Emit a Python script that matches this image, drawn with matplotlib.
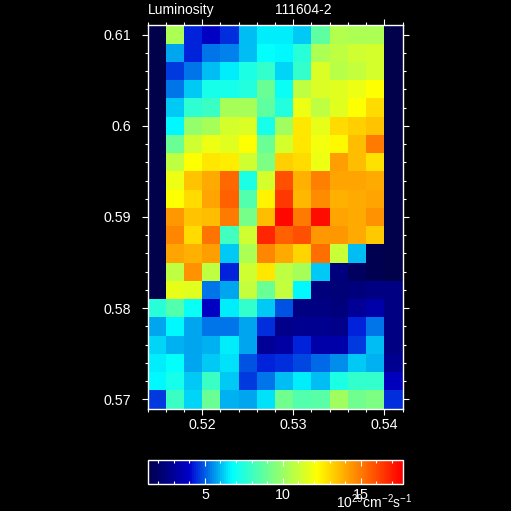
import numpy as np
import matplotlib
matplotlib.use("Agg")
import matplotlib.pyplot as plt
from matplotlib.colors import LinearSegmentedColormap, Normalize
from matplotlib.cm import ScalarMappable
from matplotlib.ticker import MultipleLocator, FormatStrFormatter

plt.rcParams['font.family'] = ['Liberation Sans', 'DejaVu Sans']

# cell edges
x_edges = [0.514, 0.516, 0.518, 0.520, 0.522, 0.524, 0.526, 0.528,
           0.530, 0.532, 0.534, 0.536, 0.538, 0.540, 0.542]
y_edges = [0.611, 0.609, 0.607, 0.605, 0.603, 0.601, 0.599, 0.597, 0.595, 0.593, 0.591,
           0.589, 0.587, 0.585, 0.583, 0.581, 0.579, 0.577, 0.575, 0.573, 0.571, 0.569]

# luminosity values, top row first
row00 = [1.5, 10.4, 4.5, 4.0, 4.6, 6.1, 6.6, 6.6, 6.2, 8.8, 10.6, 10.5, 10.4, 1.5]
row01 = [1.5, 5.8, 4.5, 5.4, 5.5, 6.1, 6.9, 6.7, 7.6, 10.5, 10.8, 11.2, 11.4, 1.5]
row02 = [1.5, 4.7, 5.3, 6.1, 6.6, 7.4, 7.9, 6.4, 7.9, 11.5, 10.7, 11.0, 11.3, 1.5]
row03 = [1.5, 5.4, 6.3, 7.3, 7.2, 7.5, 9.0, 7.0, 10.9, 11.5, 11.6, 11.8, 12.2, 1.5]
row04 = [1.5, 6.2, 7.8, 8.0, 10.3, 10.3, 8.8, 7.5, 11.9, 10.9, 11.6, 12.2, 13.0, 1.5]
row05 = [1.5, 6.7, 9.9, 10.3, 11.4, 11.5, 7.3, 10.2, 12.7, 11.7, 13.0, 13.3, 13.5, 1.5]
row06 = [1.5, 9.0, 11.2, 11.9, 11.6, 12.2, 9.0, 11.4, 12.8, 12.0, 12.4, 13.7, 15.0, 1.5]
row07 = [1.5, 10.8, 12.2, 12.8, 12.6, 11.2, 9.4, 13.3, 13.0, 11.9, 14.3, 13.6, 12.9, 1.5]
row08 = [1.5, 11.9, 13.5, 14.0, 15.4, 7.4, 11.3, 15.9, 13.9, 14.9, 14.2, 14.1, 14.0, 1.5]
row09 = [1.5, 12.2, 13.0, 14.1, 15.5, 8.5, 12.5, 16.5, 13.8, 14.7, 13.9, 14.0, 14.1, 1.5]
row10 = [1.5, 14.4, 13.5, 13.6, 15.1, 9.3, 13.7, 17.5, 15.0, 17.3, 14.1, 14.0, 14.6, 1.5]
row11 = [1.5, 14.8, 13.0, 15.2, 8.2, 11.2, 16.9, 15.6, 16.0, 14.4, 14.4, 14.0, 13.4, 1.5]
row12 = [1.5, 14.2, 13.9, 14.3, 6.2, 10.4, 14.8, 14.0, 13.1, 15.3, 11.1, 6.1, 1.6, 1.5]
row13 = [1.5, 10.8, 14.5, 10.8, 4.5, 11.2, 12.8, 10.8, 10.3, 6.2, 2.5, 1.9, 1.7, 1.5]
row14 = [1.5, 11.7, 11.6, 5.3, 5.8, 11.0, 9.1, 11.0, 6.7, 2.5, 2.4, 2.5, 2.6, 2.7]
row15 = [7.6, 8.6, 7.0, 4.0, 6.6, 7.9, 6.3, 5.0, 2.6, 2.6, 2.5, 3.0, 3.4, 2.6]
row16 = [5.8, 6.8, 5.8, 5.4, 5.4, 5.8, 4.6, 2.8, 2.9, 2.9, 2.8, 4.4, 5.4, 2.6]
row17 = [6.4, 6.0, 5.8, 6.0, 6.6, 5.8, 3.0, 3.3, 4.4, 3.4, 3.4, 4.7, 6.1, 2.6]
row18 = [6.6, 6.9, 5.8, 6.3, 6.5, 4.9, 4.5, 4.6, 4.8, 5.2, 5.6, 6.3, 6.0, 2.9]
row19 = [6.7, 7.2, 6.2, 8.0, 6.3, 4.7, 5.4, 6.1, 6.6, 6.1, 7.4, 7.9, 7.9, 3.8]
row20 = [4.7, 8.0, 6.4, 9.0, 6.0, 5.8, 6.5, 9.2, 8.5, 8.7, 10.2, 9.2, 9.4, 4.6]

title_left = "Luminosity"
title_right = "111604-2"
unit_label = r"$\mathregular{10^{29}cm^{-2}s^{-1}}$"
vmin, vmax = 1.32, 17.67


def px_axes(fig, left, top, right, bottom):
    # axes from image pixel edges
    return fig.add_axes((left/511, 1 - bottom/511, (right-left)/511, (bottom-top)/511))


lum = np.array([row00, row01, row02, row03, row04, row05, row06, row07, row08, row09, row10,
                row11, row12, row13, row14, row15, row16, row17, row18, row19, row20])

cmap = LinearSegmentedColormap.from_list("lum", [
    (0.0, (0, 0, 0.27)),
    (0.17, (0, 0, 0.8)),
    (0.18, (0, 0.08, 0.85)),
    (0.335, (0, 1, 1)),
    (0.5, (0.5, 1, 0.5)),
    (0.67, (1, 1, 0)),
    (0.835, (1, 0.5, 0)),
    (1.0, (1, 0, 0)),
], N=128)
norm = Normalize(vmin, vmax)

fig = plt.figure(figsize=(5.11, 5.11), dpi=100, facecolor='black')

ax = px_axes(fig, 147.5, 25.5, 402.5, 408.5)
ax.set_facecolor('black')
ax.pcolormesh(x_edges, y_edges, lum, cmap=cmap, norm=norm, edgecolors='none')
ax.set_xlim(x_edges[0], x_edges[-1])
ax.set_ylim(y_edges[-1], y_edges[0])
ax.xaxis.set_major_locator(MultipleLocator(0.01))
ax.xaxis.set_minor_locator(MultipleLocator(0.002))
ax.yaxis.set_major_locator(MultipleLocator(0.01))
ax.yaxis.set_minor_locator(MultipleLocator(0.002))
ax.xaxis.set_major_formatter(FormatStrFormatter('%g'))
ax.yaxis.set_major_formatter(FormatStrFormatter('%g'))
ax.tick_params(which='major', direction='out', length=4.6, width=0.8, color='white',
               labelcolor='white', labelsize=10.3, top=True, right=True)
ax.tick_params(which='minor', direction='out', length=2.3, width=0.8, color='white',
               top=True, right=True)
ax.tick_params(axis='x', which='major', pad=2)
ax.tick_params(axis='y', which='major', pad=7)
for s in ax.spines.values():
    s.set_color('white')
    s.set_linewidth(1.0)

fig.text(147.5/511, 1 - 14/511, title_left, color='white', fontsize=10, ha='left', va='baseline')
fig.text(275/511, 1 - 14/511, title_right, color='white', fontsize=10, ha='left', va='baseline')

# colour bar
cax = px_axes(fig, 147.5, 459.5, 402.5, 483.5)
cb = fig.colorbar(ScalarMappable(norm=norm, cmap=cmap), cax=cax, orientation='horizontal')
cb.solids.set_edgecolor('face')
cb.outline.set_edgecolor('white')
cb.outline.set_linewidth(1.0)
cax.xaxis.set_major_locator(MultipleLocator(5))
cax.xaxis.set_minor_locator(MultipleLocator(1))
cax.xaxis.set_major_formatter(FormatStrFormatter('%g'))
cax.tick_params(which='major', direction='in', length=4.6, width=0.8, color='white',
                labelcolor='white', labelsize=10.3, top=True, bottom=True, pad=3)
cax.tick_params(which='minor', direction='in', length=2.3, width=0.8, color='white',
                top=True, bottom=True)

fig.text(336/511, 1 - 508/511, unit_label, color='white', fontsize=10,
         ha='left', va='baseline')

fig.savefig("out.png", dpi=100, facecolor='black')
